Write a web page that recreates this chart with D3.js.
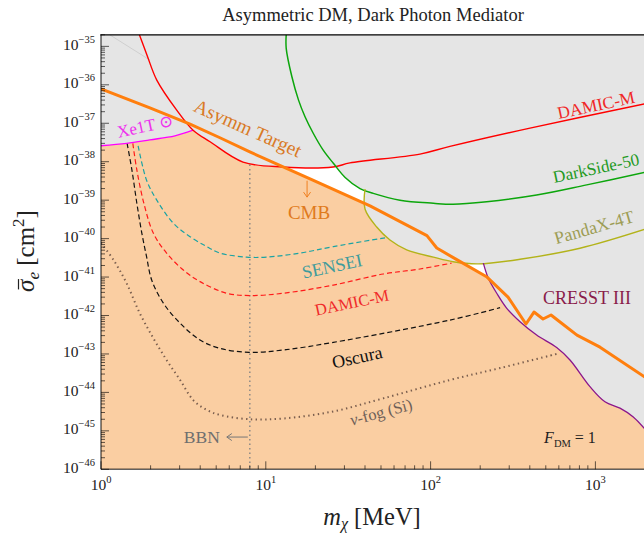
<!DOCTYPE html>
<html>
<head>
<meta charset="utf-8">
<script src="https://cdn.jsdelivr.net/npm/d3@7"></script>
<style>
  body { margin: 0; background: #fff; }
  svg text { font-family: "Liberation Serif", "DejaVu Serif", serif; }
</style>
</head>
<body>
<svg id="chart" width="644" height="535"></svg>
<script>
// curves, [m_chi in MeV, sigma_e in cm^2]
var asymmTarget = [[1, 7.8e-37], [1.98, 2.5e-37], [3.47, 9.5e-38], [5.27, 4.2e-38], [8.0, 1.8e-38],
  [19.3, 3.3e-39], [42.9, 7.1e-40], [95, 1.2e-40], [109, 5.7e-41], [145, 2.8e-41], [220, 1.0e-41],
  [295, 3.0e-42], [379, 6.0e-43], [424, 1.23e-42], [481, 8.1e-43], [538, 1.03e-42], [610, 6.8e-43],
  [773, 3.1e-43], [1067, 1.5e-43], [2000, 2.5e-44]];
var xe1t = [[1, 2.6e-38], [1.43, 3.0e-38], [1.98, 3.7e-38], [2.81, 4.7e-38], [3.62, 6.6e-38]];
var damicM = [[1.71, 2e-35], [1.90, 6.0e-36], [2.18, 1.33e-36], [2.88, 2.2e-37], [3.62, 6.6e-38],
  [4.59, 3.3e-38], [7.27, 9.8e-39], [12.7, 7.3e-39], [25.6, 7.3e-39], [32.4, 9.3e-39], [86.2, 1.58e-38],
  [131, 2.5e-38], [401, 7.5e-38], [2000, 3.2e-37]];
var darkSide50 = [[13.3, 2e-35], [13.3, 8.9e-36], [14.4, 1.62e-36], [15.8, 4.0e-37], [17.3, 1.48e-37],
  [19.4, 5.5e-38], [22.3, 2.0e-38], [25.7, 9.1e-39], [30.3, 3.9e-39], [37.3, 2.0e-39], [44.9, 1.5e-39],
  [65.2, 1.0e-39], [104, 8.3e-40], [137, 7.8e-40], [219, 9.1e-40], [440, 1.36e-39], [886, 2.5e-39],
  [2000, 5.3e-39]];
var pandaX4T = [[40.0, 1.95e-39], [40.0, 5.9e-40], [47.1, 2.0e-40], [56.7, 9.2e-41], [71.6, 5.1e-41],
  [104, 3.3e-41], [137, 2.5e-41], [195, 2.2e-41], [349, 2.9e-41], [806, 5.6e-41], [2000, 1.75e-40]];
var cresstIII = [[209, 2.3e-41], [224, 9.3e-42], [252, 3.8e-42], [290, 1.54e-42], [349, 6.9e-43],
  [440, 3.1e-43], [582, 1.47e-43], [701, 6.97e-44], [927, 1.41e-44], [1143, 5.7e-45], [1410, 3.9e-45],
  [1698, 2.3e-45], [2000, 1.1e-45]];
var oldBound = [[1.13, 2e-35], [1.98, 4.4e-36]];

// projections
var senseiProj = [[1.68, 2.6e-38], [1.89, 3.3e-39], [2.18, 1.0e-39], [2.75, 2.5e-40], [3.47, 1.12e-40],
  [4.38, 6.2e-41], [5.27, 4.2e-41], [7.65, 3.3e-41], [10.1, 3.3e-41], [16.1, 4.2e-41], [25.7, 6.2e-41],
  [52.9, 1.05e-40]];
var damicMProj = [[1.56, 3.0e-38], [1.65, 6.1e-39], [1.82, 8.3e-40], [2.08, 1.37e-40], [2.50, 4.2e-41],
  [3.16, 1.52e-41], [3.99, 7.6e-42], [5.79, 3.8e-42], [8.0, 3.3e-42], [12.8, 3.8e-42], [25.7, 6.2e-42],
  [51.6, 1.2e-41], [86.2, 1.62e-41], [134, 2.3e-41]];
var oscura = [[1.44, 3.0e-38], [1.54, 6.1e-39], [1.65, 8.3e-40], [1.77, 1.37e-40], [1.89, 3.4e-41],
  [2.03, 8.4e-42], [2.39, 2.1e-42], [3.02, 6.3e-43], [3.99, 2.3e-43], [5.27, 1.4e-43], [7.91, 1.1e-43],
  [12.8, 1.27e-43], [25.7, 2.0e-43], [131, 7.6e-43], [264, 1.6e-42]];
var nuFog = [[1, 7.7e-41], [1.19, 2.8e-41], [1.43, 6.9e-42], [1.72, 1.14e-42], [2.08, 2.55e-43],
  [2.50, 6.97e-44], [3.02, 2.1e-44], [3.63, 6.3e-45], [4.38, 3.5e-45], [5.27, 2.6e-45], [8.0, 2.0e-45],
  [12.8, 2.1e-45], [25.7, 3.2e-45], [51.6, 7.0e-45], [131, 2.1e-44], [264, 4.3e-44], [582, 1.0e-43]];
var bbnMass = 8;

var xDomain = [1, 2000]
  , yDomain = [1e-46, 2e-35]
  , xTickExps = [0, 1, 2, 3]
  , yTickExps = d3.range(-46, -34);

var svg = d3.select("#chart")
  , plotLeft = 101
  , plotRight = 645
  , plotTop = 34.8
  , plotBottom = 469.3;

var x = d3.scaleLog().domain(xDomain).range([plotLeft, plotRight]);
var y = d3.scaleLog().domain(yDomain).range([plotBottom, plotTop]);

svg.append("defs").append("clipPath").attr("id", "plot-clip")
  .append("rect")
    .attr("x", plotLeft).attr("y", plotTop)
    .attr("width", plotRight - plotLeft).attr("height", plotBottom - plotTop);

var plot = svg.append("g").attr("clip-path", "url(#plot-clip)");

var line = d3.line().x(d => x(d[0])).y(d => y(d[1])).curve(d3.curveCatmullRom.alpha(0.5));
var below = d3.area().x(d => x(d[0])).y0(plotBottom).y1(d => y(d[1]));
var above = d3.area().x(d => x(d[0])).y0(plotTop).y1(d => y(d[1])).curve(d3.curveCatmullRom.alpha(0.5));

// orange: under the target
plot.append("path").datum(asymmTarget)
  .attr("d", below).attr("fill", "#facea2");

// grey: excluded region, union of everything above each limit
[xe1t, damicM, darkSide50, pandaX4T, cresstIII].forEach(function(c){
  plot.append("path").datum(c).attr("d", above).attr("fill", "#e5e5e5");
});

plot.append("path").datum(oldBound)
  .attr("d", line).attr("fill", "none").attr("stroke", "#cfcfcf").attr("stroke-width", 1);

// BBN line
plot.append("line")
  .attr("x1", x(bbnMass)).attr("x2", x(bbnMass))
  .attr("y1", y(8.5e-39)).attr("y2", plotBottom)
  .attr("stroke", "#858585").attr("stroke-width", 1.4).attr("stroke-dasharray", "1.5,3");

var styled = [
  {d: nuFog, color: "#7a5e4e", w: 2, dash: "1.4,3.4"},
  {d: oscura, color: "#111", w: 1.2, dash: "5,3"},
  {d: damicMProj, color: "#ff1a1a", w: 1.2, dash: "5,3"},
  {d: senseiProj, color: "#1aa3a3", w: 1.2, dash: "5,3"},
  {d: xe1t, color: "#ff00ff", w: 1.4, dash: null},
  {d: damicM, color: "#ff0000", w: 1.4, dash: null},
  {d: darkSide50, color: "#0ca60c", w: 1.5, dash: null},
  {d: pandaX4T, color: "#b3b31a", w: 1.4, dash: null},
  {d: cresstIII, color: "#8b168b", w: 1.3, dash: null}
];
styled.forEach(function(s){
  plot.append("path").datum(s.d)
    .attr("d", line)
    .attr("fill", "none")
    .attr("stroke", s.color)
    .attr("stroke-width", s.w)
    .attr("stroke-dasharray", s.dash);
});

plot.append("path").datum(asymmTarget)
  .attr("d", d3.line().x(d => x(d[0])).y(d => y(d[1])))
  .attr("fill", "none").attr("stroke", "#ff7f0e").attr("stroke-width", 3)
  .attr("stroke-linejoin", "round");

// axes, ticks point inwards
var majorX = xTickExps.map(e => Math.pow(10, e));
var minorX = [];
xTickExps.forEach(function(e){ d3.range(2, 10).forEach(function(j){ var v = j * Math.pow(10, e); if (v <= xDomain[1]) minorX.push(v); }); });
var majorY = yTickExps.map(e => Math.pow(10, e));
var minorY = [];
yTickExps.forEach(function(e){ d3.range(2, 10).forEach(function(j){ var v = j * Math.pow(10, e); if (v <= yDomain[1]) minorY.push(v); }); });

var axes = svg.append("g").attr("stroke", "#000").attr("stroke-opacity", 0.62);
axes.selectAll(".xmaj").data(majorX).enter().append("line")
  .attr("x1", d => x(d)).attr("x2", d => x(d)).attr("y1", plotBottom).attr("y2", plotBottom - 8);
axes.selectAll(".xmin").data(minorX).enter().append("line")
  .attr("x1", d => x(d)).attr("x2", d => x(d)).attr("y1", plotBottom).attr("y2", plotBottom - 4);
axes.selectAll(".ymaj").data(majorY).enter().append("line")
  .attr("y1", d => y(d)).attr("y2", d => y(d)).attr("x1", plotLeft).attr("x2", plotLeft + 8);
axes.selectAll(".ymin").data(minorY).enter().append("line")
  .attr("y1", d => y(d)).attr("y2", d => y(d)).attr("x1", plotLeft).attr("x2", plotLeft + 4);
axes.append("line").attr("x1", plotLeft).attr("x2", plotLeft).attr("y1", plotTop).attr("y2", plotBottom).attr("stroke-width", 1.5);
axes.append("line").attr("x1", plotLeft).attr("x2", plotRight).attr("y1", plotBottom).attr("y2", plotBottom).attr("stroke-width", 1.5);
svg.append("line").attr("x1", plotLeft - 0.75).attr("x2", plotRight).attr("y1", plotTop).attr("y2", plotTop)
  .attr("stroke", "#000").attr("stroke-width", 1.3);

// tick labels
yTickExps.forEach(function(e){
  var t = svg.append("text")
    .attr("x", 95).attr("y", y(Math.pow(10, e)) + 3.5)
    .attr("text-anchor", "end").attr("fill", "#222");
  t.append("tspan").attr("font-size", 15.5).text("10");
  t.append("tspan").attr("font-size", 10.5).attr("dy", -7).text("\u2212" + Math.abs(e));
});
xTickExps.forEach(function(e){
  var t = svg.append("text")
    .attr("x", x(Math.pow(10, e))).attr("y", 489.5)
    .attr("text-anchor", "middle").attr("fill", "#222");
  t.append("tspan").attr("font-size", 15.5).text("10");
  t.append("tspan").attr("font-size", 10.5).attr("dy", -7).text(e);
});

// titles
svg.append("text")
  .attr("x", 373).attr("y", 21)
  .attr("text-anchor", "middle").attr("font-size", 18.5).attr("fill", "#222")
  .text("Asymmetric DM, Dark Photon Mediator");

var xt = svg.append("text")
  .attr("x", 372).attr("y", 525)
  .attr("text-anchor", "middle").attr("font-size", 24.5).attr("fill", "#222");
xt.append("tspan").attr("font-style", "italic").text("m");
xt.append("tspan").attr("font-style", "italic").attr("font-size", 16).attr("dy", 4).text("\u03c7");
xt.append("tspan").attr("dy", -4).text(" [MeV]");

var ytg = svg.append("g").attr("transform", "translate(34,251) rotate(-90)");
var yt = ytg.append("text")
  .attr("text-anchor", "middle").attr("font-size", 25).attr("fill", "#222");
yt.append("tspan").attr("font-style", "italic").text("\u03c3");
yt.append("tspan").attr("font-style", "italic").attr("font-size", 17).attr("dy", 5).text("e");
yt.append("tspan").attr("dy", -5).text(" [cm");
yt.append("tspan").attr("font-size", 17).attr("dy", -10).text("2");
yt.append("tspan").attr("dy", 10).text("]");
// bar over sigma
var sig = yt.node().getExtentOfChar(0);
ytg.append("line")
  .attr("x1", sig.x + 2.5).attr("x2", sig.x + sig.width + 0.5)
  .attr("y1", -15.5).attr("y2", -15.5)
  .attr("stroke", "#222").attr("stroke-width", 1.2);

// curve labels
function label(txt, m, s, angle, color, size){
  return svg.append("text")
    .attr("transform", "translate(" + x(m) + "," + y(s) + ") rotate(" + angle + ")")
    .attr("text-anchor", "middle").attr("dy", ".35em")
    .attr("font-size", size).attr("fill", color)
    .text(txt);
}
label("Asymm Target", 7.8, 7.5e-38, 24, "#d97a26", 19.5);
label("CMB", 18.3, 4.9e-40, 0, "#e07a1c", 19);
label("Xe1T \u2299", 1.85, 8.5e-38, -12, "#ee33ee", 17);
label("DAMIC-M", 1009, 3.0e-37, -12, "#f02828", 17.3);
label("DarkSide-50", 1009, 6.9e-39, -12, "#1f9a1f", 17.2);
label("PandaX-4T", 981, 2.0e-40, -16, "#9d9d55", 17.8);
label("CRESST III", 889, 2.85e-42, 0, "#8a1c4a", 18);
label("SENSEI", 25.2, 1.94e-41, -12, "#3f9c9c", 18);
label("DAMIC-M", 33.3, 2.2e-42, -12, "#f02a2a", 16.5);
label("Oscura", 35.8, 8.3e-44, -12, "#111", 18);

var nf = label("", 50, 3.1e-45, -15, "#6e6058", 16.5);
nf.append("tspan").attr("font-style", "italic").text("\u03bd");
nf.append("tspan").text("-fog (Si)");

var fdm = label("", 701, 6.9e-46, 0, "#222", 16);
fdm.append("tspan").attr("font-style", "italic").text("F");
fdm.append("tspan").attr("font-size", 10.5).attr("dy", 4).text("DM");
fdm.append("tspan").attr("dy", -4).text(" = 1");

// BBN arrow
var by = y(6.9e-46), bx = x(bbnMass);
svg.append("text")
  .attr("x", bx - 30).attr("y", by).attr("dy", ".35em")
  .attr("text-anchor", "end").attr("font-size", 17.5).attr("fill", "#6f6f6f")
  .text("BBN");
svg.append("path")
  .attr("d", "M" + (bx - 2) + "," + by + "H" + (bx - 23) + "M" + (bx - 18) + "," + (by - 3.5) + "L" + (bx - 23) + "," + by + "L" + (bx - 18) + "," + (by + 3.5))
  .attr("fill", "none").attr("stroke", "#777").attr("stroke-width", 1);

// CMB arrow
var cx = x(17.8), cy0 = y(3.2e-39), cy1 = y(1.2e-39);
svg.append("path")
  .attr("d", "M" + cx + "," + cy0 + "V" + cy1 + "M" + (cx - 3.5) + "," + (cy1 - 5) + "L" + cx + "," + cy1 + "L" + (cx + 3.5) + "," + (cy1 - 5))
  .attr("fill", "none").attr("stroke", "#f08020").attr("stroke-width", 1);
</script>
</body>
</html>
